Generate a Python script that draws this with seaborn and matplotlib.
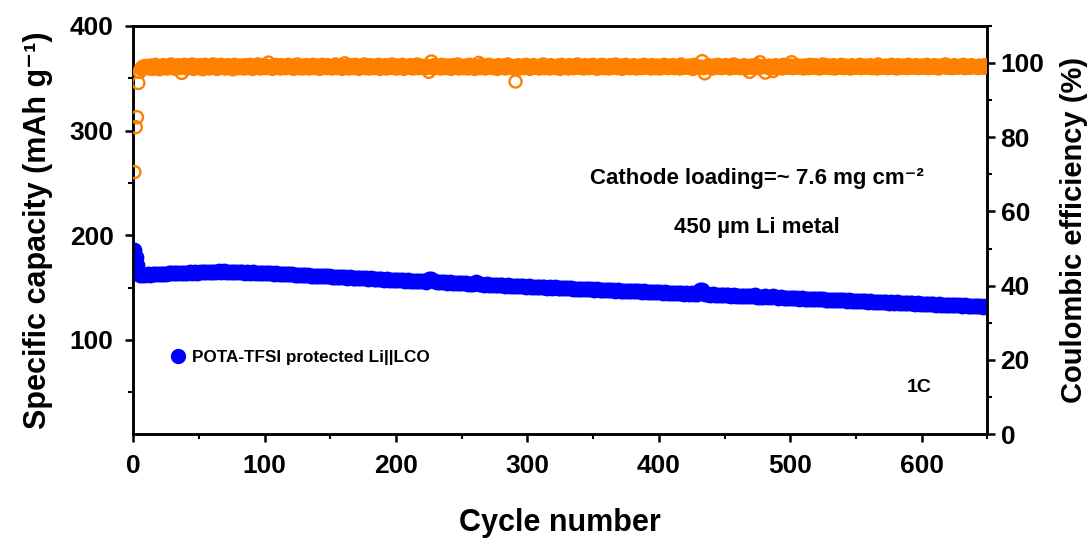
import numpy as np
import pandas as pd
import matplotlib
matplotlib.use("Agg")
import matplotlib.pyplot as plt
from matplotlib.lines import Line2D
from matplotlib.ticker import MultipleLocator
import seaborn as sns

# Capacity is listed for cycles 1-4, then every second cycle
cap_cycles = [1, 2, 3, 4] + list(range(5, 650, 2))

# Specific capacity (mAh g-1)
capacity = [
    186.0, 179.0, 172.0, 166.0,
    162.4, 162.0, 162.3, 162.6, 162.2, 162.8, 163.0, 162.7, 163.2,
    163.4, 163.1, 163.6, 163.9, 163.5, 164.0, 164.2, 163.8, 164.3, 164.1,
    164.5, 164.2, 164.7, 164.4, 164.9, 164.6, 165.1, 164.8, 165.3, 164.9,
    165.2, 165.5, 165.0, 165.4, 165.1, 164.8, 165.2, 164.9, 164.6, 165.0,
    164.7, 164.4, 164.8, 164.3, 164.6, 164.1, 164.4, 163.9, 164.2,
    163.9, 163.6, 163.8, 163.3, 163.5, 163.0, 163.2, 162.7, 162.9, 162.5,
    162.6, 162.2, 162.4, 161.9, 162.1, 161.6, 161.8, 161.3, 161.5, 161.1,
    161.3, 160.9, 161.0, 160.6, 160.8, 160.3, 160.5, 160.0, 160.2, 159.8,
    160.0, 159.6, 159.8, 159.3, 159.5, 159.0, 159.2, 158.7, 158.9, 158.5,
    158.7, 158.2, 158.4, 157.9, 158.1, 157.7, 157.9, 157.4, 157.6, 157.2,
    157.4, 156.9, 157.1, 156.7, 156.9, 156.4, 156.6, 156.1, 156.3, 155.9,
    156.1, 155.7, 158.3, 158.6, 156.0, 155.2, 155.4, 154.9, 155.1, 154.7,
    154.9, 154.4, 154.6, 154.2, 154.4, 153.9, 154.1, 153.6, 153.8, 153.4,
    155.2, 153.2, 153.4, 152.9, 153.1, 152.6, 152.8, 152.4, 152.6, 152.1,
    152.3, 151.9, 152.1, 151.6, 151.8, 151.4, 151.6, 151.1, 151.3, 150.9,
    151.2, 150.8, 151.0, 150.5, 150.7, 150.3, 150.5, 150.0, 150.2, 149.8,
    150.1, 149.7, 149.9, 149.4, 149.6, 149.2, 149.4, 148.9, 149.1, 148.7,
    149.0, 148.6, 148.8, 148.3, 148.5, 148.1, 148.3, 147.8, 148.0, 147.6,
    147.9, 147.5, 147.7, 147.2, 147.4, 147.0, 147.2, 146.7, 146.9, 146.5,
    146.8, 146.4, 146.6, 146.1, 146.3, 145.9, 146.1, 145.6, 145.8, 145.4,
    145.7, 145.3, 145.5, 145.0, 145.2, 144.8, 145.0, 144.5, 144.7, 144.3,
    144.6, 144.2, 144.4, 143.9, 144.1, 147.7, 147.4, 143.4, 143.6, 143.2,
    143.5, 143.1, 143.3, 142.8, 143.0, 142.6, 142.8, 142.3, 142.5, 142.1,
    142.4, 142.0, 142.2, 141.7, 141.9, 141.5, 142.8, 141.2, 141.4, 141.0,
    142.3, 140.9, 141.1, 142.0, 140.8, 140.4, 140.6, 140.1, 140.3, 139.9,
    140.2, 139.8, 140.0, 139.5, 139.7, 139.3, 139.5, 139.0, 139.2, 138.8,
    139.1, 138.7, 138.9, 138.4, 138.6, 138.2, 138.4, 137.9, 138.1, 137.7,
    138.0, 137.6, 137.8, 137.3, 137.5, 137.1, 137.3, 136.8, 137.0, 136.6,
    136.9, 136.5, 136.7, 136.2, 136.4, 136.0, 136.2, 135.7, 135.9, 135.5,
    135.8, 135.4, 135.6, 135.1, 135.3, 134.9, 135.1, 134.6, 134.8, 134.4,
    134.7, 134.3, 134.5, 134.0, 134.2, 133.8, 134.0, 133.5, 133.7, 133.3,
    133.6, 133.2, 133.4, 132.9, 133.1, 132.7, 132.9, 132.4, 132.6, 132.2,
    132.5, 132.1, 132.3, 131.8, 132.0,
]

# Coulombic efficiency (%) for every cycle, 1-650
ce_cycles = list(range(1, 651))
efficiency = [
    70.6, 82.7, 85.4, 94.6, 97.6, 98.4, 98.9, 98.6, 99.2, 98.8,
    99.0, 98.5, 99.3, 98.9, 98.4, 99.1, 99.5, 98.7, 99.0, 98.3,
    99.2, 98.8, 99.4, 98.6, 99.0, 98.5, 99.3, 98.9, 99.6, 98.7,
    99.1, 98.4, 99.0, 99.4, 98.6, 99.2, 97.3, 98.8, 99.5, 98.9,
    98.5, 99.3, 98.7, 99.1, 99.6, 98.4, 99.0, 98.8, 99.3, 98.6,
    99.4, 98.9, 98.3, 99.1, 99.5, 98.7, 99.0, 98.5, 99.2, 98.9,
    99.6, 98.6, 99.0, 98.4, 99.3, 98.8, 99.5, 98.7, 99.1, 98.5,
    99.0, 99.4, 98.6, 98.9, 99.2, 98.3, 99.5, 98.8, 99.0, 98.6,
    99.3, 98.7, 99.1, 98.5, 99.4, 98.9, 98.6, 99.2, 99.5, 98.8,
    98.4, 99.0, 99.3, 98.7, 99.6, 98.9, 98.5, 99.1, 98.8, 99.4,
    98.6, 99.2, 100.1, 98.8, 99.0, 98.4, 99.3, 98.9, 99.5, 98.7,
    99.1, 98.5, 99.4, 98.8, 99.0, 98.6, 99.2, 99.5, 98.7, 98.9,
    99.3, 98.4, 99.0, 98.8, 99.6, 98.6, 99.1, 98.9, 98.5, 99.3,
    98.7, 99.4, 99.0, 98.5, 99.2, 98.8, 99.5, 98.6, 99.0, 98.9,
    99.3, 98.4, 98.9, 99.5, 98.7, 99.1, 98.6, 99.4, 98.8, 99.0,
    98.5, 99.2, 98.9, 99.6, 98.6, 99.0, 98.8, 99.3, 98.4, 99.1,
    99.9, 98.7, 99.2, 98.5, 99.4, 98.9, 99.0, 98.6, 99.5, 98.8,
    99.1, 98.4, 99.3, 98.7, 99.0, 99.6, 98.6, 98.9, 99.2, 98.5,
    99.4, 98.8, 99.0, 98.6, 99.3, 98.9, 99.5, 98.4, 99.1, 98.7,
    99.0, 99.4, 98.5, 98.9, 99.2, 98.7, 99.6, 98.8, 99.0, 98.5,
    99.3, 98.6, 99.1, 98.9, 99.5, 98.4, 99.0, 98.8, 99.2, 98.7,
    99.4, 98.9, 98.5, 99.2, 98.8, 99.6, 98.6, 99.0, 99.3, 98.7,
    99.0, 98.5, 99.3, 98.8, 97.6, 99.1, 100.4, 98.6, 99.4, 98.9,
    98.7, 99.2, 99.0, 98.5, 99.5, 98.8, 99.1, 98.6, 99.3, 98.9,
    99.0, 98.4, 99.4, 98.7, 99.1, 98.9, 99.6, 98.5, 99.0, 98.8,
    99.2, 98.6, 99.3, 98.9, 98.5, 99.5, 98.7, 99.0, 99.2, 98.4,
    99.1, 98.8, 100.0, 98.6, 99.4, 98.9, 99.0, 98.5, 99.3, 98.7,
    99.5, 98.8, 99.0, 98.6, 99.2, 98.9, 98.4, 99.4, 98.7, 99.1,
    98.9, 99.3, 98.5, 99.0, 99.6, 98.8, 99.1, 98.6, 99.2, 98.9,
    95.0, 98.7, 99.4, 98.5, 99.0, 98.8, 99.3, 98.6, 99.5, 98.9,
    99.0, 98.4, 99.2, 98.8, 99.4, 98.7, 99.1, 98.9, 98.5, 99.3,
    98.8, 99.6, 98.6, 99.0, 98.9, 99.2, 98.5, 99.4, 98.7, 99.1,
    99.0, 98.6, 99.3, 98.9, 98.4, 99.5, 98.8, 99.1, 98.7, 99.2,
    98.5, 99.4, 98.9, 99.0, 98.6, 99.3, 98.8, 99.6, 98.7, 99.0,
    98.9, 99.2, 98.5, 99.4, 98.8, 99.0, 98.6, 99.3, 98.9, 99.5,
    98.7, 99.1, 98.4, 99.0, 99.3, 98.8, 99.5, 98.6, 99.2, 98.9,
    99.0, 98.5, 99.4, 98.7, 99.1, 98.9, 99.6, 98.6, 99.0, 98.8,
    99.3, 98.4, 99.1, 98.9, 99.5, 98.7, 99.0, 98.6, 99.2, 98.8,
    99.4, 98.9, 98.5, 99.1, 98.8, 99.3, 98.6, 99.0, 99.5, 98.7,
    99.0, 98.8, 99.2, 98.5, 99.4, 98.9, 99.1, 98.6, 99.3, 98.8,
    98.5, 99.2, 98.9, 99.5, 98.7, 99.0, 98.6, 99.3, 98.8, 99.1,
    99.4, 98.6, 99.0, 98.9, 99.2, 98.5, 99.6, 98.8, 99.0, 98.7,
    99.1, 98.9, 99.3, 98.6, 99.0, 98.4, 99.5, 98.8, 99.2, 98.9,
    98.7, 99.0, 100.5, 98.6, 97.2, 99.1, 98.8, 99.4, 98.9, 99.0,
    98.5, 99.3, 98.8, 99.0, 99.5, 98.7, 99.1, 98.6, 99.2, 98.9,
    99.4, 98.8, 99.0, 98.5, 99.3, 98.9, 99.6, 98.7, 99.0, 98.8,
    99.2, 98.6, 99.1, 98.9, 99.4, 98.5, 99.0, 98.8, 97.6, 99.3,
    98.7, 99.1, 98.9, 99.5, 98.6, 99.0, 100.2, 98.8, 99.2, 98.9,
    97.4, 99.0, 98.7, 99.3, 98.9, 99.1, 97.8, 98.6, 99.4, 98.8,
    99.0, 98.9, 99.2, 98.5, 99.5, 98.8, 99.1, 98.7, 99.0, 99.3,
    100.2, 98.6, 99.1, 98.9, 99.4, 98.7, 99.0, 98.8, 99.2, 98.5,
    99.3, 98.9, 99.0, 98.6, 99.5, 98.8, 99.1, 98.7, 99.4, 98.9,
    99.0, 98.5, 99.2, 98.9, 99.6, 98.7, 99.0, 98.8, 99.3, 98.6,
    99.1, 98.9, 99.4, 98.5, 99.0, 98.8, 99.2, 98.7, 99.5, 98.9,
    98.6, 99.3, 99.0, 98.8, 99.1, 98.5, 99.4, 98.9, 99.0, 98.7,
    99.2, 98.8, 99.5, 98.6, 99.0, 98.9, 99.3, 98.7, 99.1, 98.8,
    99.4, 98.6, 99.0, 98.9, 99.2, 98.5, 99.6, 98.8, 99.0, 98.7,
    99.1, 98.9, 99.3, 98.6, 99.0, 98.8, 99.5, 98.7, 99.2, 98.9,
    98.5, 99.4, 98.9, 99.0, 98.7, 99.3, 98.8, 99.1, 98.6, 99.5,
    98.9, 99.0, 98.7, 99.2, 98.8, 99.4, 98.6, 99.0, 98.9, 99.3,
    98.7, 99.1, 98.9, 99.5, 98.6, 99.0, 98.8, 99.2, 98.7, 99.4,
    98.9, 99.0, 98.5, 99.3, 98.8, 99.1, 98.9, 99.6, 98.7, 99.0,
    98.8, 99.2, 98.6, 99.0, 99.4, 98.9, 98.7, 99.1, 98.8, 99.3,
    98.9, 99.5, 98.6, 99.0, 98.8, 99.2, 98.7, 99.4, 98.9, 99.0,
    98.8, 99.1, 98.6, 99.3, 98.9, 99.0, 98.7, 99.4, 98.9, 99.2,
]

legend_label = "POTA-TFSI protected Li||LCO"
note_loading = "Cathode loading=~ 7.6 mg cm\u207b\u00b2"
note_li = "450 \u00b5m Li metal"
note_rate = "1C"

BLUE = "#0000FF"
ORANGE = "#FF7F00"

cap_df = pd.DataFrame({"cycle": cap_cycles, "capacity": capacity})
ce_df = pd.DataFrame({"cycle": ce_cycles, "ce": efficiency})

sns.set_theme(style="ticks")
plt.rcParams["font.family"] = ["Liberation Sans", "DejaVu Sans"]
plt.rcParams["font.weight"] = "bold"
plt.rcParams["axes.labelweight"] = "bold"
for key in ("text.color", "axes.labelcolor", "xtick.color", "ytick.color",
            "axes.edgecolor"):
    plt.rcParams[key] = "black"

fig = plt.figure(figsize=(10.91, 5.38), dpi=100)
ax = fig.add_axes([0.122, 0.193, 0.783, 0.759])
ax2 = ax.twinx()

sns.scatterplot(data=cap_df, x="cycle", y="capacity", ax=ax, color=BLUE,
                s=130, edgecolor=BLUE, linewidth=0, legend=False, zorder=3)
sns.scatterplot(data=ce_df, x="cycle", y="ce", ax=ax2, marker="o",
                facecolor="none", edgecolor=ORANGE, s=75, linewidth=1.7,
                legend=False, zorder=3)

ax.set_xlim(0, 650)
ax.set_ylim(10, 400)
ax2.set_ylim(0, 110)

ax.xaxis.set_major_locator(MultipleLocator(100))
ax.xaxis.set_minor_locator(MultipleLocator(50))
ax.set_yticks([100, 200, 300, 400])
ax.yaxis.set_minor_locator(MultipleLocator(50))
ax2.yaxis.set_major_locator(MultipleLocator(20))
ax2.yaxis.set_minor_locator(MultipleLocator(10))

for a in (ax, ax2):
    for sp in a.spines.values():
        sp.set_linewidth(1.8)
        sp.set_color("black")
    a.tick_params(which="major", direction="out", length=6, width=1.8,
                  labelsize=19, color="black", labelcolor="black")
    a.tick_params(which="minor", direction="out", length=3.5, width=1.5,
                  color="black")
ax.tick_params(axis="x", which="both", top=False)
ax.tick_params(axis="x", which="major", pad=8)
ax.tick_params(axis="y", which="both", right=False)
ax.tick_params(axis="y", which="major", pad=8)
ax2.tick_params(axis="y", which="both", left=False)

ax.set_xlabel("Cycle number", fontsize=22, fontweight="bold", labelpad=22)
ax.set_ylabel("Specific capacity (mAh g\u207b\u00b9)", fontsize=22,
              fontweight="bold", labelpad=12)
ax2.set_ylabel("Coulombic efficiency (%)", fontsize=21, fontweight="bold",
               labelpad=11)

ax.text(0.73, 0.627, note_loading, transform=ax.transAxes, ha="center",
        va="center", fontsize=16, fontweight="bold")
ax.text(0.73, 0.505, note_li, transform=ax.transAxes, ha="center",
        va="center", fontsize=16, fontweight="bold")
ax.text(0.92, 0.115, note_rate, transform=ax.transAxes, ha="center",
        va="center", fontsize=14, fontweight="bold")

handle = Line2D([], [], marker="o", linestyle="none", markersize=11,
                color=BLUE, markeredgewidth=0)
leg = ax.legend([handle], [legend_label], loc="center left",
                bbox_to_anchor=(0.027, 0.188), frameon=False,
                handlelength=0.8, handletextpad=0.4,
                prop={"size": 12.3, "weight": "bold"})

fig.savefig("out.png", dpi=100)
